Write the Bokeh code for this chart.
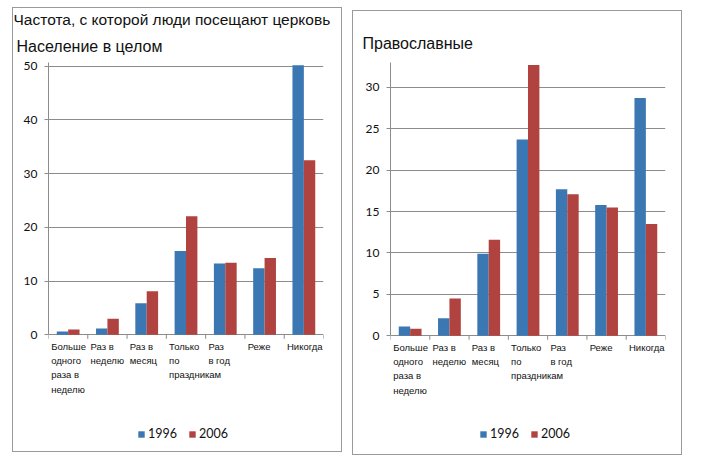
import math
from bokeh.plotting import figure
from bokeh.models import (ColumnDataSource, FixedTicker, Legend, LegendItem, Title, Range1d)
from bokeh.core.properties import value
from bokeh.layouts import row, column
from bokeh.embed import file_html
from bokeh.resources import INLINE

categories = ["Больше\nодного\nраза в\nнеделю", "Раз в\nнеделю", "Раз в\nмесяц",
              "Только\nпо\nпраздникам", "Раз\nв год", "Реже", "Никогда"]
series_names = ["1996", "2006"]
all_1996 = [0.6, 1.2, 5.9, 15.6, 13.3, 12.4, 50.2]
all_2006 = [1.0, 3.0, 8.1, 22.1, 13.4, 14.3, 32.5]
orth_1996 = [1.1, 2.1, 9.9, 23.7, 17.7, 15.8, 28.7]
orth_2006 = [0.85, 4.5, 11.6, 32.7, 17.1, 15.5, 13.5]
main_title = "Частота, с которой люди посещают церковь"
left_title = "Население в целом"
right_title = "Православные"
left_ticks = [0, 10, 20, 30, 40, 50]
right_ticks = [0, 5, 10, 15, 20, 25, 30]

BLUE = "#3B77B3"
RED = "#B0433F"
GRAY = "#8c8c8c"
BW = 0.29


def panel(v96, v06, title, ticks, ymin, ymax, frame_left, frame_right_border, top_border,
          with_main, margin, sub_offset, sub_standoff, legend_loc):
    n = len(categories)
    p = figure(width=330, height=445, output_backend="svg", toolbar_location=None,
               x_range=Range1d(0, n), y_range=Range1d(ymin, ymax),
               min_border_left=frame_left, min_border_right=frame_right_border,
               min_border_top=top_border, min_border_bottom=8,
               margin=margin)
    p.styles = {"border": "1.5px solid #9a9a9a", "box-sizing": "border-box"}
    p.outline_line_color = None
    xs = [i + 0.5 for i in range(n)]
    src = ColumnDataSource(dict(x96=[x - BW / 2 for x in xs], x06=[x + BW / 2 for x in xs],
                                v96=v96, v06=v06))
    r1 = p.vbar(x="x96", top="v96", width=BW, source=src, fill_color=BLUE, line_color=None)
    r2 = p.vbar(x="x06", top="v06", width=BW, source=src, fill_color=RED, line_color=None)

    # category axis drawn at y = 0: tick marks at category boundaries, labels left aligned
    p.xaxis.visible = False
    p.xgrid.visible = False
    bounds = list(range(n + 1))
    p.ray(x=bounds, y=[0] * len(bounds), length=4, length_units="screen",
          angle=-math.pi / 2, line_color=GRAY, line_width=1)
    off = 0.07
    lab = ColumnDataSource(dict(x=[i + off for i in range(n)], y=[0] * n, t=categories))
    p.text(x="x", y="y", text="t", source=lab, y_offset=6, text_align="left",
           text_baseline="top", text_font=value("Liberation Sans"), text_font_size="9.5px",
           text_line_height=1.3, text_color="#111111")

    p.yaxis.ticker = FixedTicker(ticks=ticks)
    p.yaxis.bounds = (0, ymax)
    p.yaxis.minor_tick_line_color = None
    p.yaxis.major_tick_out = 4
    p.yaxis.major_tick_in = 0
    p.yaxis.major_tick_line_color = GRAY
    p.yaxis.axis_line_color = GRAY
    p.yaxis.major_label_text_font = "Lato"
    p.yaxis.major_label_text_font_size = "12px"
    p.yaxis.major_label_text_color = "#111111"
    p.yaxis.major_label_standoff = 7
    p.ygrid.ticker = FixedTicker(ticks=ticks)
    p.ygrid.grid_line_color = GRAY
    p.ygrid.grid_line_width = 1

    p.add_layout(Title(text=title, align="left", text_font="Liberation Sans",
                       text_font_size="16px", text_font_style="normal", text_color="#111111",
                       standoff=sub_standoff, offset=sub_offset), "above")
    if with_main:
        p.add_layout(Title(text=main_title, align="left", text_font="Liberation Sans",
                           text_font_size="15.5px", text_font_style="normal", text_color="#111111",
                           standoff=0, offset=-35), "above")

    legend = Legend(items=[LegendItem(label=series_names[0], renderers=[r1]),
                           LegendItem(label=series_names[1], renderers=[r2])],
                    orientation="horizontal", location=legend_loc,
                    glyph_width=8, glyph_height=8, label_standoff=3, spacing=11,
                    label_text_font="Lato", label_text_font_size="12.5px",
                    label_text_color="#111111", padding=0, margin=0,
                    border_line_color=None, background_fill_alpha=0)
    p.add_layout(legend, "center")
    return p


left = panel(all_1996, all_2006, left_title, left_ticks, -20.6, 50.7, 35, 20, 53, True,
             (7, 0, 0, 12), -32, 16, (89, 4))
right = panel(orth_1996, orth_2006, right_title, right_ticks, -13.62, 33.0, 37, 18, 51, False,
              (10, 0, 0, 10), -28, 22, (89, 7))

layout = row(column(left), column(right))
open("out.html", "w").write(file_html(layout, INLINE))
